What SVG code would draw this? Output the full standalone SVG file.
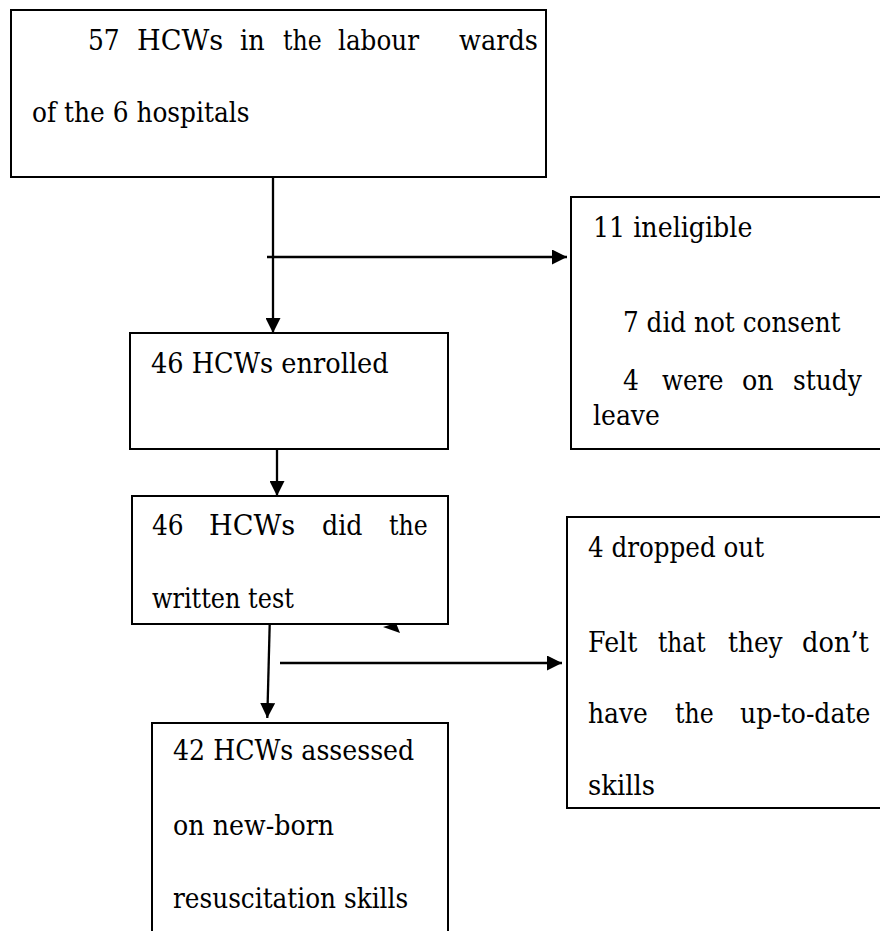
<svg xmlns="http://www.w3.org/2000/svg" width="880" height="931" viewBox="0 0 880 931">
<style>
.box{fill:#fff;stroke:#000;stroke-width:2}
.t{font-size:28.5px;fill:#000}
.c{stroke:#000;stroke-width:2.3;fill:none}
.ah{fill:#000}
</style>
<defs>
<marker id="arr" viewBox="0 0 15 15" refX="15" refY="7.5" markerWidth="15" markerHeight="15" markerUnits="userSpaceOnUse" orient="auto">
<path d="M0,0 L15,7.5 L0,15 Z" fill="#000"/>
</marker>
</defs>
<rect width="880" height="931" fill="#fff"/>
<g id="connectors">
<line class="c" x1="273" y1="177" x2="273" y2="333" marker-end="url(#arr)"/>
<line class="c" x1="267" y1="257" x2="567" y2="257" marker-end="url(#arr)"/>
<line class="c" x1="277" y1="449" x2="277" y2="496" marker-end="url(#arr)"/>
<line class="c" x1="269.7" y1="624" x2="267.3" y2="718" marker-end="url(#arr)"/>
<line class="c" x1="280" y1="663" x2="562" y2="663" marker-end="url(#arr)"/>
<polygon class="ah" points="383,627 396,623 400,633"/>
</g>
<g font-family="DejaVu Serif, Liberation Serif, Times New Roman, serif">
<g id="n1">
<rect class="box" x="11" y="10" width="535" height="167"/>
<text class="t" x="88" y="50" textLength="31.7" lengthAdjust="spacingAndGlyphs">57</text>
<text class="t" x="137" y="50" textLength="86.3" lengthAdjust="spacingAndGlyphs">HCWs</text>
<text class="t" x="240" y="50" textLength="24.7" lengthAdjust="spacingAndGlyphs">in</text>
<text class="t" x="283" y="50" textLength="38.7" lengthAdjust="spacingAndGlyphs">the</text>
<text class="t" x="338" y="50" textLength="81" lengthAdjust="spacingAndGlyphs">labour</text>
<text class="t" x="459" y="50" textLength="79" lengthAdjust="spacingAndGlyphs">wards</text>
<text class="t" x="32" y="122" textLength="217.5" lengthAdjust="spacingAndGlyphs">of the 6 hospitals</text>
</g>
<g id="n2">
<rect class="box" x="571" y="197" width="320" height="252"/>
<text class="t" x="593" y="237" textLength="159.4" lengthAdjust="spacingAndGlyphs">11 ineligible</text>
<text class="t" x="623" y="332" textLength="217.5" lengthAdjust="spacingAndGlyphs">7 did not consent</text>
<text class="t" x="623" y="390" textLength="15.9" lengthAdjust="spacingAndGlyphs">4</text>
<text class="t" x="662" y="390" textLength="61.6" lengthAdjust="spacingAndGlyphs">were</text>
<text class="t" x="742" y="390" textLength="31.7" lengthAdjust="spacingAndGlyphs">on</text>
<text class="t" x="793" y="390" textLength="68.7" lengthAdjust="spacingAndGlyphs">study</text>
<text class="t" x="593" y="425" textLength="66.9" lengthAdjust="spacingAndGlyphs">leave</text>
</g>
<g id="n3">
<rect class="box" x="130" y="333" width="318" height="116"/>
<text class="t" x="151" y="373" textLength="237.7" lengthAdjust="spacingAndGlyphs">46 HCWs enrolled</text>
</g>
<g id="n4">
<rect class="box" x="132" y="496" width="316" height="128"/>
<text class="t" x="152" y="535" textLength="31.7" lengthAdjust="spacingAndGlyphs">46</text>
<text class="t" x="209" y="535" textLength="86.3" lengthAdjust="spacingAndGlyphs">HCWs</text>
<text class="t" x="322" y="535" textLength="40.5" lengthAdjust="spacingAndGlyphs">did</text>
<text class="t" x="389" y="535" textLength="38.7" lengthAdjust="spacingAndGlyphs">the</text>
<text class="t" x="152" y="608" textLength="141.8" lengthAdjust="spacingAndGlyphs">written test</text>
</g>
<g id="n5">
<rect class="box" x="152" y="723" width="296" height="230"/>
<text class="t" x="173" y="760" textLength="241.2" lengthAdjust="spacingAndGlyphs">42 HCWs assessed</text>
<text class="t" x="173" y="835" textLength="161.1" lengthAdjust="spacingAndGlyphs">on new-born</text>
<text class="t" x="173" y="908" textLength="235.1" lengthAdjust="spacingAndGlyphs">resuscitation skills</text>
</g>
<g id="n6">
<rect class="box" x="567" y="517" width="324" height="291"/>
<text class="t" x="588" y="557" textLength="176.1" lengthAdjust="spacingAndGlyphs">4 dropped out</text>
<text class="t" x="588" y="652" textLength="49.3" lengthAdjust="spacingAndGlyphs">Felt</text>
<text class="t" x="658" y="652" textLength="47.6" lengthAdjust="spacingAndGlyphs">that</text>
<text class="t" x="728" y="652" textLength="54.6" lengthAdjust="spacingAndGlyphs">they</text>
<text class="t" x="802" y="652" textLength="66.9" lengthAdjust="spacingAndGlyphs">don’t</text>
<text class="t" x="588" y="723" textLength="59.9" lengthAdjust="spacingAndGlyphs">have</text>
<text class="t" x="675" y="723" textLength="38.7" lengthAdjust="spacingAndGlyphs">the</text>
<text class="t" x="740" y="723" textLength="130.3" lengthAdjust="spacingAndGlyphs">up-to-date</text>
<text class="t" x="588" y="795" textLength="66.9" lengthAdjust="spacingAndGlyphs">skills</text>
</g>
</g>
</svg>
